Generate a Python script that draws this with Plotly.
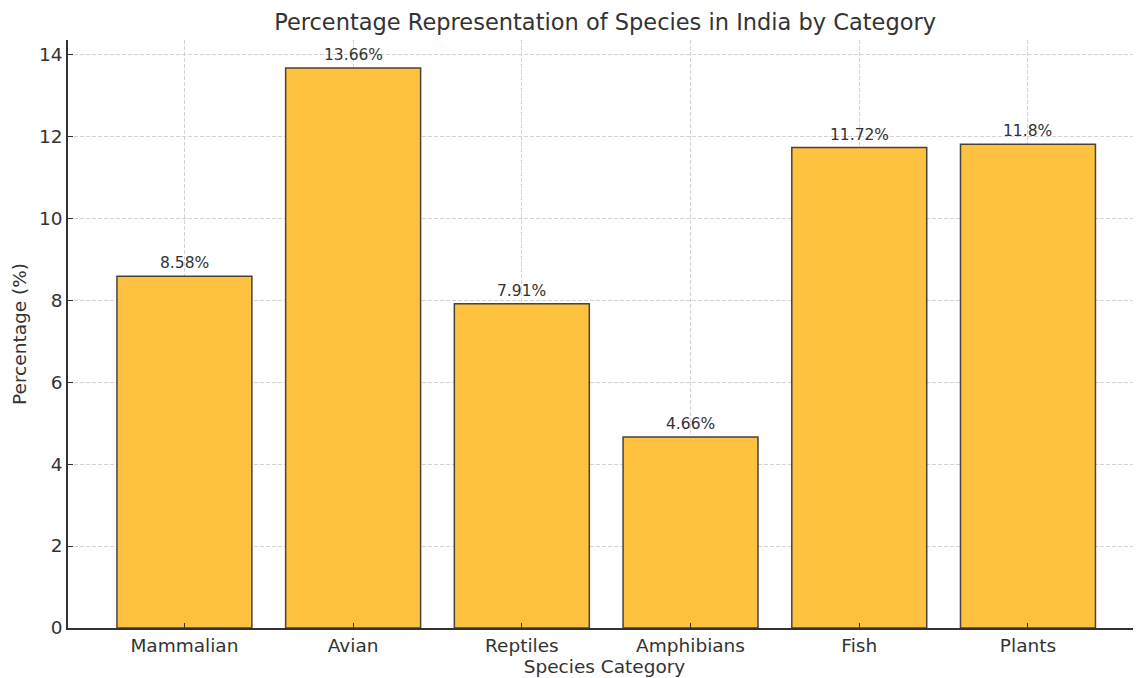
import plotly.graph_objects as go

categories = ["Mammalian", "Avian", "Reptiles", "Amphibians", "Fish", "Plants"]
values = [8.58, 13.66, 7.91, 4.66, 11.72, 11.8]
labels = ["8.58%", "13.66%", "7.91%", "4.66%", "11.72%", "11.8%"]
y_ticks = [0, 2, 4, 6, 8, 10, 12, 14]

FONT = "DejaVu Sans"
DARK = "#333333"
GRID = "#d3d3d3"

fig = go.Figure()
fig.add_trace(go.Bar(
    x=categories, y=values, width=0.8,
    marker=dict(color="rgb(255,193,64)", line=dict(color="rgba(40,40,40,0.85)", width=1.5)),
    hoverinfo="x+y",
))

for c, v, t in zip(categories, values, labels):
    fig.add_annotation(x=c, y=v, text=t, showarrow=False, yanchor="bottom", yshift=2,
                       font=dict(family=FONT, size=15.5, color=DARK))

fig.update_layout(
    width=1133, height=670,
    margin=dict(l=60, r=0, t=32, b=50, autoexpand=False),
    plot_bgcolor="white", paper_bgcolor="white",
    font=dict(family=FONT, color=DARK),
    showlegend=False,
    bargap=0.2,
    title=dict(text="Percentage Representation of Species in India by Category",
               x=0.527, xanchor="center", y=0.979, yanchor="middle",
               font=dict(family=FONT, size=22.5, color=DARK)),
    xaxis=dict(
        range=[-0.69, 5.67], showline=True, linecolor=DARK, linewidth=1.5,
        ticks="inside", ticklen=5, tickcolor=DARK, tickwidth=1,
        showgrid=True, gridcolor=GRID, griddash="4px,2px", gridwidth=1,
        tickfont=dict(family=FONT, size=18.5, color=DARK),
        title=dict(text="Species Category", font=dict(family=FONT, size=18.5, color=DARK), standoff=0),
        layer="above traces", zeroline=False, automargin=False,
    ),
    yaxis=dict(
        range=[0, 14.343], showline=True, linecolor=DARK, linewidth=1.5,
        tickvals=y_ticks, ticks="inside", ticklen=5, tickcolor=DARK, tickwidth=1,
        showgrid=True, gridcolor=GRID, griddash="4px,2px", gridwidth=1,
        tickfont=dict(family=FONT, size=18.5, color=DARK),
        title=dict(text="Percentage (%)", font=dict(family=FONT, size=18.5, color=DARK), standoff=8),
        layer="above traces", zeroline=False, automargin=False,
    ),
)

fig.write_html("out.html")
